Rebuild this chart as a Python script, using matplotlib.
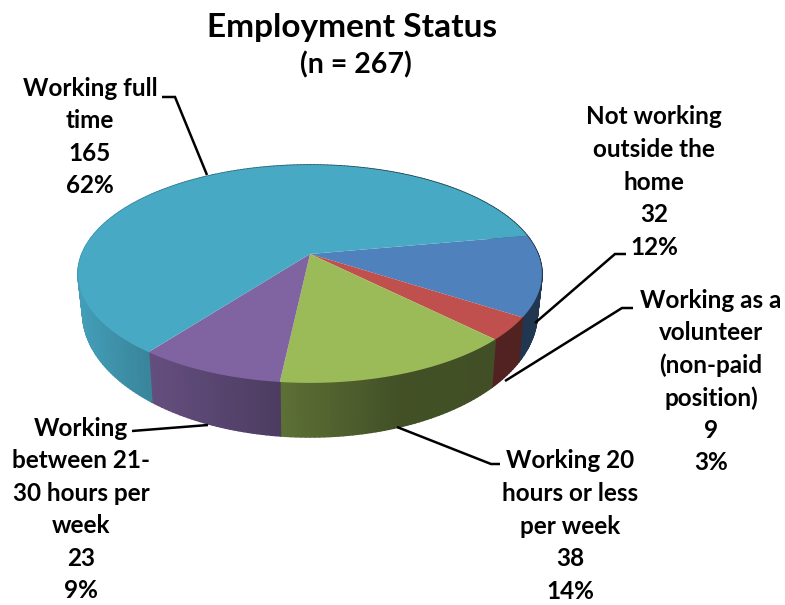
import numpy as np
import matplotlib
matplotlib.use("Agg")
import matplotlib.pyplot as plt
from matplotlib.collections import PolyCollection
from matplotlib.colors import to_rgb

plt.rcParams["font.family"] = ["Lato", "DejaVu Sans"]

categories = [
    "Not working\noutside the\nhome",
    "Working as a\nvolunteer\n(non-paid\nposition)",
    "Working 20\nhours or less\nper week",
    "Working\nbetween 21-\n30 hours per\nweek",
    "Working full\ntime",
]
counts = [32, 9, 38, 23, 165]
percents = [12, 3, 14, 9, 62]
colors = ["#4f81bd", "#c0504d", "#9bbb59", "#8064a2", "#48a9c5"]

# label centre (x, y of the first text line) and leader polyline, in pixels
label_pos = [(654, 117), (711, 300), (570, 461), (81, 428), (90, 88)]
leaders = [
    [(535, 323), (615, 254), (626, 254)],
    [(505, 381), (622, 308), (633, 308)],
    [(397, 427), (491, 464), (500, 464)],
    [(208, 425), (132, 431)],
    [(207, 175), (175, 97), (162, 97)],
]

# perspective of the pie disc, fitted to the rim
APEX = (310.0, 254.0)
RX, RY, KP = 228.0, 105.3, 0.183
START_DEG = -10.3


def rim(theta):
    # theta in degrees, clockwise on screen from +x
    u = np.cos(np.radians(theta))
    v = np.sin(np.radians(theta))
    w = 1 - KP * v
    return APEX[0] + RX * u / w, APEX[1] + RY * v / w


def lower(x, y):
    # matching point on the bottom edge of the wall
    return APEX[0] + 0.98 * (x - APEX[0]), y + 36 + 0.14 * (y - APEX[1])


def shade(x):
    return np.interp(x, [80, 150, 280, 400, 540], [0.93, 0.78, 0.6, 0.43, 0.42])


fig = plt.figure(figsize=(7.85, 6.05), dpi=100)
ax = fig.add_axes([0, 0, 1, 1])
ax.set_xlim(0, 785)
ax.set_ylim(605, 0)
ax.axis("off")

shares = np.array(counts) / sum(counts) * 360
ends = START_DEG + np.cumsum(shares)
starts = ends - shares

# side walls first, tops go over them
for a0, a1, col in zip(starts, ends, colors):
    th = np.arange(a0, a1 + 1.0, 1.0)
    th[-1] = min(th[-1], a1)
    xt, yt = rim(th)
    xb, yb = lower(xt, yt)
    polys, face = [], []
    base = np.array(to_rgb(col))
    for i in range(len(th) - 1):
        polys.append([(xt[i], yt[i]), (xt[i + 1], yt[i + 1]), (xb[i + 1], yb[i + 1]), (xb[i], yb[i])])
        face.append(base * shade((xt[i] + xt[i + 1]) / 2))
    # thick same-colour edges hide the seams between strips
    ax.add_collection(PolyCollection(polys, facecolors=face, edgecolors=face, linewidths=1.2))

for a0, a1, col in zip(starts, ends, colors):
    th = np.linspace(a0, a1, 200)
    xt, yt = rim(th)
    ax.fill(np.r_[APEX[0], xt], np.r_[APEX[1], yt], color=col, lw=0)

for pts in leaders:
    xs, ys = zip(*pts)
    ax.plot(xs, ys, color="black", lw=1.8, solid_capstyle="butt", solid_joinstyle="miter", zorder=5)

ax.text(352, 27, "Employment Status", ha="center", va="center", fontsize=24, fontweight="bold", color="black")
ax.text(356, 65, "(n = 267)", ha="center", va="center", fontsize=20.5, fontweight="bold", color="black")

for cat, n, pct, (x, y) in zip(categories, counts, percents, label_pos):
    lines = cat.split("\n") + [str(n), f"{pct}%"]
    for i, line in enumerate(lines):
        ax.text(x, y + i * 32.6, line, ha="center", va="center", fontsize=17.5, fontweight="bold", color="black", zorder=6)

fig.savefig("out.png", dpi=100, facecolor="white")
